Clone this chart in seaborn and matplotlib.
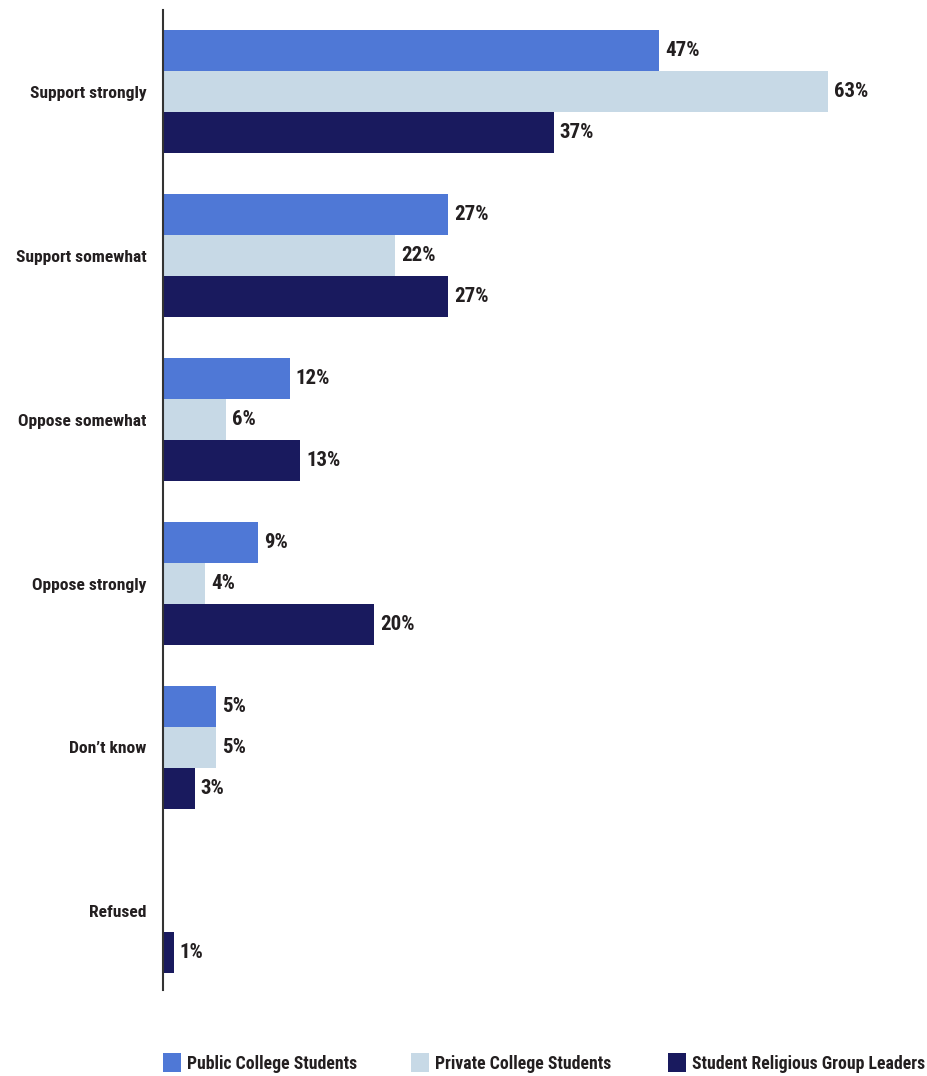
import matplotlib
matplotlib.use("Agg")
import matplotlib.pyplot as plt
import seaborn as sns
import pandas as pd
from matplotlib.patches import Patch
from matplotlib.font_manager import FontProperties

categories = ["Support strongly", "Support somewhat", "Oppose somewhat",
              "Oppose strongly", "Don\u2019t know", "Refused"]
series = ["Public College Students", "Private College Students",
          "Student Religious Group Leaders"]
public_vals = [47, 27, 12, 9, 5, 0]
private_vals = [63, 22, 6, 4, 5, 0]
leaders_vals = [37, 27, 13, 20, 3, 1]
colors = ["#4f78d6", "#c7d9e6", "#191a5e"]

rows = []
for name, vals in zip(series, [public_vals, private_vals, leaders_vals]):
    for cat, v in zip(categories, vals):
        rows.append({"category": cat, "group": name, "value": v})
df = pd.DataFrame(rows)

sns.set_theme(style="white")
families = ["Roboto Condensed", "Liberation Sans Narrow", "Roboto", "DejaVu Sans"]
plt.rcParams["font.family"] = families
text_color = "#231f20"
cat_font = FontProperties(family=families, weight="bold", size=12.6)
val_font = FontProperties(family=families, weight="bold", size=15)
leg_font = FontProperties(family=families, weight="bold", size=12.8)

fig = plt.figure(figsize=(9.28, 10.76), dpi=100)
ax = fig.add_axes([0.1756, 0.080, 0.80, 0.9107])

sns.barplot(data=df, y="category", x="value", hue="group",
            order=categories, hue_order=series, palette=colors,
            orient="h", width=0.75, saturation=1, ax=ax, legend=False,
            linewidth=0)

for container in ax.containers:
    labels = [f"{int(round(b.get_width()))}%" if b.get_width() > 0 else ""
              for b in container]
    ax.bar_label(container, labels=labels, padding=4.3, fontproperties=val_font,
                 color=text_color)

ax.set_xlim(0, 70.3)
ax.set_ylim(5.48, -0.5)
ax.set_xlabel("")
ax.set_ylabel("")
ax.set_xticks([])
ax.tick_params(axis="y", length=0, pad=12, labelcolor=text_color)
for lab in ax.get_yticklabels():
    lab.set_fontproperties(cat_font)
for side in ["top", "right", "bottom"]:
    ax.spines[side].set_visible(False)
ax.spines["left"].set_color("#333333")
ax.spines["left"].set_linewidth(1.5)

# one legend entry per swatch position along the bottom
swatch_x = [163, 411, 668]
for name, c, x in zip(series, colors, swatch_x):
    leg = fig.legend([Patch(facecolor=c, edgecolor="none")], [name],
                     loc="center left", bbox_to_anchor=(x / 928, 13 / 1076),
                     frameon=False, handlelength=1.0, handleheight=1.25,
                     handletextpad=0.35, borderpad=0, borderaxespad=0,
                     prop=leg_font)
    for t in leg.get_texts():
        t.set_color(text_color)

fig.savefig("out.png", dpi=100)
